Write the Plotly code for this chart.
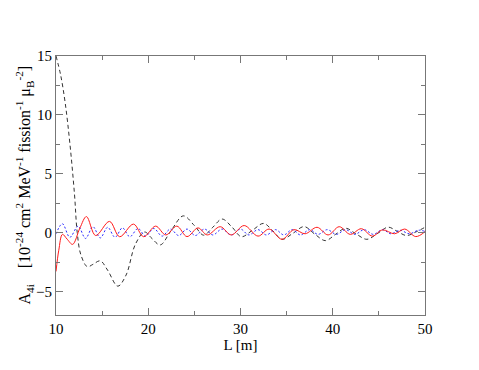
import plotly.graph_objects as go

# black dashed curve (readings at extrema / key points)
L_black = [10.0, 10.5, 11.0, 11.5, 12.0, 12.3, 12.7, 13.4, 14.0, 14.8, 15.6, 16.7, 17.6, 18.6,
           19.6, 20.4, 21.3, 22.5, 23.8, 25.0, 26.0, 27.0, 28.0, 29.1, 30.1, 31.3, 32.5, 33.5,
           34.5, 35.7, 36.9, 38.0, 39.2, 40.3, 41.4, 42.5, 43.7, 44.9, 46.0, 47.0, 48.0, 49.0, 50.0]
A_black = [15.0, 13.4, 11.0, 7.6, 3.3, 0.0, -1.9, -2.9, -2.7, -2.4, -3.2, -4.55, -3.6, -1.0,
           0.05, -0.5, -1.05, 0.2, 1.42, 0.6, -0.22, 0.45, 1.15, 0.45, -0.35, 0.2, 0.78, 0.15,
           -0.57, -0.05, 0.51, -0.1, -0.68, -0.15, 0.37, -0.1, -0.57, -0.05, 0.46, 0.1, -0.25, 0.05, 0.45]

# red solid curve
L_red = [10.0, 10.3, 10.7, 11.2, 11.8, 12.6, 13.3, 14.3, 15.8, 16.9, 18.4, 19.5, 20.8, 21.9,
         23.1, 24.2, 25.4, 26.4, 27.8, 29.0, 30.4, 31.9, 33.1, 34.5, 35.8, 37.0, 38.3, 39.5,
         40.7, 41.9, 43.1, 44.3, 45.4, 46.7, 47.8, 49.0, 50.0]
A_red = [-3.3, -1.5, -0.15, -0.55, -1.0, 0.4, 1.36, -0.25, 0.95, -0.35, 0.72, -0.35, 0.55, -0.2,
         0.55, -0.34, 0.4, -0.2, 0.5, -0.2, 0.6, -0.3, 0.3, -0.57, 0.25, -0.1, 0.45, -0.2,
         0.5, -0.15, 0.33, -0.3, 0.23, -0.1, 0.3, -0.34, 0.08]

# blue dotted curve
L_blue = [10.0, 10.7, 11.5, 12.4, 13.2, 14.0, 14.8, 15.6, 16.4, 17.2, 18.0, 18.9, 19.7, 20.6,
          21.5, 22.4, 23.3, 24.2, 25.1, 26.1, 27.0, 28.0, 29.0, 30.0, 30.9, 31.9, 32.8, 33.8,
          34.7, 35.6, 36.5, 37.5, 38.4, 39.4, 40.4, 41.4, 42.4, 43.4, 44.4, 45.4, 46.3, 47.3,
          48.3, 49.3, 50.0]
A_blue = [-0.1, 0.75, -0.4, 0.55, -0.5, 0.5, -0.45, 0.45, -0.4, 0.4, -0.35, 0.35, -0.3, 0.35,
          -0.3, 0.3, -0.25, 0.3, -0.25, 0.3, -0.2, 0.3, -0.2, 0.3, -0.2, 0.25, -0.2, 0.25,
          -0.2, 0.25, -0.2, 0.25, -0.15, 0.25, -0.15, 0.25, -0.15, 0.25, -0.15, 0.25, -0.1, 0.2,
          -0.1, 0.2, 0.1]

y_title = ("A<sub>4i</sub>&nbsp;&nbsp;&nbsp;&nbsp;[10<sup>-24</sup> cm<sup>2</sup> MeV<sup>-1</sup> "
           "fission<sup>-1</sup> μ<sub>B</sub><sup>-2</sup>]")

font = "Liberation Serif, Times New Roman, Times, serif"

fig = go.Figure()
fig.add_trace(go.Scatter(x=L_black, y=A_black, mode="lines", line_shape="spline",
                         line=dict(color="#333333", width=1, dash="4px,3px")))
fig.add_trace(go.Scatter(x=L_blue, y=A_blue, mode="lines", line_shape="spline",
                         line=dict(color="#2a2aff", width=1, dash="2px,2px")))
fig.add_trace(go.Scatter(x=L_red, y=A_red, mode="lines", line_shape="spline",
                         line=dict(color="#ff1a1a", width=1)))

axis_common = dict(showgrid=False, zeroline=False, showline=True, linecolor="#777",
                   linewidth=1, mirror="ticks", ticks="inside", ticklen=7, tickcolor="#777",
                   automargin=False,
                   tickfont=dict(family=font, size=15, color="#000"))

fig.update_xaxes(range=[10, 50], dtick=10, tick0=10,
                 minor=dict(dtick=5, ticks="inside", ticklen=4, tickcolor="#777"),
                 title=dict(text="L [m]", font=dict(family=font, size=15, color="#000"), standoff=0),
                 **axis_common)
fig.update_yaxes(range=[-7, 15], dtick=5, tick0=0,
                 minor=dict(dtick=2.5, ticks="inside", ticklen=4, tickcolor="#777"),
                 **axis_common)

# y title as a rotated annotation so it can sit closer to the tick labels
fig.add_annotation(text=y_title, xref="paper", yref="paper", x=0, y=0.5,
                   xanchor="center", yanchor="middle", xshift=-32, textangle=-90,
                   showarrow=False, font=dict(family=font, size=16, color="#000"))

fig.update_layout(width=479, height=370, showlegend=False,
                  paper_bgcolor="white", plot_bgcolor="white",
                  font=dict(family=font),
                  margin=dict(l=48, r=62, t=48, b=63))

fig.write_html("out.html")
